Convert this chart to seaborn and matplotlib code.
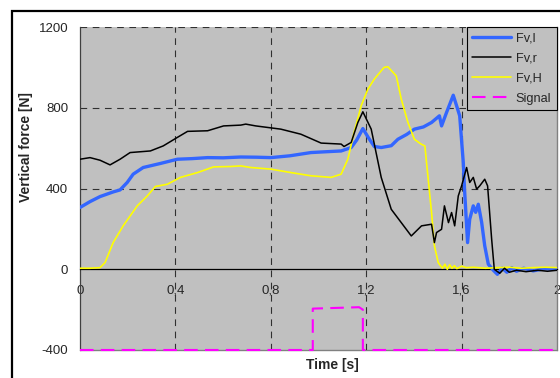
import matplotlib
matplotlib.use("Agg")
import matplotlib.pyplot as plt
from matplotlib.lines import Line2D
from matplotlib.patches import Rectangle
import seaborn as sns
import pandas as pd

# ---- data -------------------------------------------------------------
t_left = [0, 0.042, 0.084, 0.139, 0.168, 0.198, 0.223, 0.265, 0.337, 0.408,
          0.47, 0.535, 0.6, 0.674, 0.74, 0.8, 0.88, 0.968, 1.03, 1.095, 1.137,
          1.16, 1.186, 1.21, 1.234, 1.263, 1.305, 1.333, 1.37, 1.402, 1.44,
          1.474, 1.507, 1.516, 1.537, 1.565, 1.579, 1.592, 1.607, 1.613,
          1.625, 1.634, 1.649, 1.659, 1.670, 1.684, 1.697, 1.712, 1.733,
          1.75, 1.77, 1.79, 1.81, 1.83, 1.86, 1.9, 1.95, 2.0]
f_left = [306, 335, 360, 383, 393, 430, 471, 504, 524, 545,
          548, 553, 552, 556, 555, 553, 562, 578, 582, 586, 603,
          640, 697, 650, 608, 603, 612, 644, 668, 694, 705,
          727, 760, 710, 777, 862, 810, 760, 529, 381,
          132, 248, 314, 282, 322, 233, 116, 25, -5,
          -25, 5, -15, 8, -10, 5, -8, 3, 0]

t_right = [0, 0.042, 0.084, 0.126, 0.168, 0.21, 0.295, 0.349, 0.408, 0.451,
           0.535, 0.602, 0.674, 0.695, 0.737, 0.842, 0.926, 1.011, 1.095,
           1.107, 1.137, 1.165, 1.186, 1.221, 1.263, 1.305, 1.347, 1.389,
           1.432, 1.474, 1.486, 1.495, 1.516, 1.528, 1.545, 1.558, 1.571,
           1.586, 1.6, 1.621, 1.634, 1.649, 1.663, 1.676, 1.697, 1.709,
           1.726, 1.737, 1.76, 1.78, 1.8, 1.83, 1.87, 1.92, 1.96, 2.0]
f_right = [545, 553, 540, 517, 545, 578, 586, 611, 653, 683,
           686, 710, 714, 719, 710, 694, 669, 625, 620,
           608, 628, 727, 780, 694, 455, 297, 231, 165,
           215, 223, 132, 182, 198, 314, 231, 281, 215,
           363, 413, 504, 430, 455, 397, 413, 446, 413,
           149, 0, -20, 5, -15, -5, -12, -5, -10, -5]

t_hind = [0, 0.042, 0.084, 0.105, 0.139, 0.181, 0.24, 0.282, 0.316, 0.366,
          0.421, 0.493, 0.560, 0.632, 0.674, 0.716, 0.8, 0.884, 0.968, 1.053,
          1.095, 1.123, 1.149, 1.179, 1.207, 1.234, 1.263, 1.275, 1.291,
          1.326, 1.347, 1.375, 1.402, 1.43, 1.446, 1.46, 1.474, 1.486, 1.502,
          1.51, 1.52, 1.53, 1.54, 1.55, 1.56, 1.57, 1.58, 1.6, 1.62, 1.65,
          1.7, 1.75, 1.8, 1.85, 1.9, 1.95, 2.0]
f_hind = [5, 5, 8, 33, 132, 215, 314, 363, 410, 421,
          455, 479, 507, 509, 512, 504, 496, 479, 463, 455,
          471, 545, 677, 810, 892, 942, 983, 1000, 1003,
          958, 843, 727, 644, 620, 611, 446, 281, 116, 33,
          20, 5, 25, 0, 22, 5, 18, 3, 15, 8, 10,
          5, 8, 10, 5, 8, 10, 8]

t_signal = [0, 0.976, 0.976, 1.17, 1.186, 1.186, 2.0]
f_signal = [-400, -400, -195, -188, -200, -400, -400]

x_ticks = [0, 0.4, 0.8, 1.2, 1.6, 2.0]
x_tick_labels = ["0", "0,4", "0,8", "1,2", "1,6", "2"]
y_ticks = [-400, 0, 400, 800, 1200]
series_names = ["Fv,l", "Fv,r", "Fv,H", "Signal"]

# ---- style ------------------------------------------------------------
sns.set_style("white")
plt.rcParams["font.family"] = ["Liberation Sans", "DejaVu Sans"]
plt.rcParams["axes.unicode_minus"] = False

BLUE = "#3366FF"
YELLOW = "#FFFF00"
MAGENTA = "#FF00FF"
PLOT_BG = "#C0C0C0"

fig = plt.figure(figsize=(5.6, 3.78), dpi=100)
ax = fig.add_axes([80 / 560, 1 - 350 / 378, 477 / 560, 323 / 378])
ax.set_facecolor(PLOT_BG)

# outer chart frame
fig.patches.append(Rectangle((12 / 560, -0.1), 1.2, 1 - 11 / 378 + 0.1,
                             transform=fig.transFigure, fill=False,
                             edgecolor="black", linewidth=1.6, zorder=0))

# ---- curves -----------------------------------------------------------
df_l = pd.DataFrame({"t": t_left, "F": f_left})
df_r = pd.DataFrame({"t": t_right, "F": f_right})
df_h = pd.DataFrame({"t": t_hind, "F": f_hind})
df_s = pd.DataFrame({"t": t_signal, "F": f_signal})

sns.lineplot(data=df_h, x="t", y="F", ax=ax, color=YELLOW, lw=1.2,
             sort=False, estimator=None, zorder=4)
sns.lineplot(data=df_r, x="t", y="F", ax=ax, color="black", lw=1.1,
             sort=False, estimator=None, zorder=5)
sns.lineplot(data=df_l, x="t", y="F", ax=ax, color=BLUE, lw=2.4,
             sort=False, estimator=None, zorder=3)
sns.lineplot(data=df_s, x="t", y="F", ax=ax, color=MAGENTA, lw=1.5,
             sort=False, estimator=None, zorder=6, dashes=False)
ax.lines[-1].set_dashes((6.5, 3.5))
ax.lines[-1].set_clip_on(False)

# ---- axes -------------------------------------------------------------
ax.set_xlim(0, 2)
ax.set_ylim(-400, 1200)
ax.set_xticks(x_ticks)
ax.set_xticklabels(x_tick_labels)
ax.set_yticks(y_ticks)
ax.tick_params(axis="y", direction="out", length=6, width=0.8,
               color="#404040", pad=2.5, labelsize=9.5)
ax.tick_params(axis="x", length=0, pad=11, labelsize=9.5)

ax.spines["bottom"].set_position(("data", 0))
ax.spines["bottom"].set_color("black")
ax.spines["bottom"].set_linewidth(0.9)
ax.spines["left"].set_color("#404040")
ax.spines["left"].set_linewidth(0.9)
ax.spines["right"].set_color("#808080")
ax.spines["right"].set_linewidth(1.0)
ax.spines["top"].set_visible(False)

# plot-area bottom edge
ax.axhline(-400, color="#808080", lw=1.0, zorder=1, clip_on=False)

grid_style = dict(color="#303030", lw=0.8, dashes=(6, 5), zorder=2)
for gx in x_ticks[1:-1]:
    ax.axvline(gx, **grid_style)
for gy in [400, 800, 1200]:
    ax.axhline(gy, **grid_style)

ax.set_xlabel("Time [s]", fontsize=10, fontweight="bold")
ax.set_ylabel("Vertical force [N]", fontsize=10, fontweight="bold")
ax.xaxis.set_label_coords(0.53, -0.026)
ax.yaxis.set_label_coords(-0.0985, 0.628)

# ---- legend -----------------------------------------------------------
handles = [
    Line2D([], [], color=BLUE, lw=2.4),
    Line2D([], [], color="black", lw=1.1),
    Line2D([], [], color=YELLOW, lw=1.2),
    Line2D([], [], color=MAGENTA, lw=1.5, dashes=(6.5, 3.5)),
]
leg = ax.legend(handles, series_names, loc="upper right",
                bbox_to_anchor=(1.0, 1.0), borderaxespad=0.0,
                fontsize=9.2, frameon=True, fancybox=False, framealpha=1,
                facecolor=PLOT_BG, edgecolor="black", handlelength=3.0,
                handletextpad=0.4, labelspacing=0.62, borderpad=0.45)
leg.get_frame().set_linewidth(0.8)
leg.set_zorder(10)

fig.savefig("out.png", dpi=100)
